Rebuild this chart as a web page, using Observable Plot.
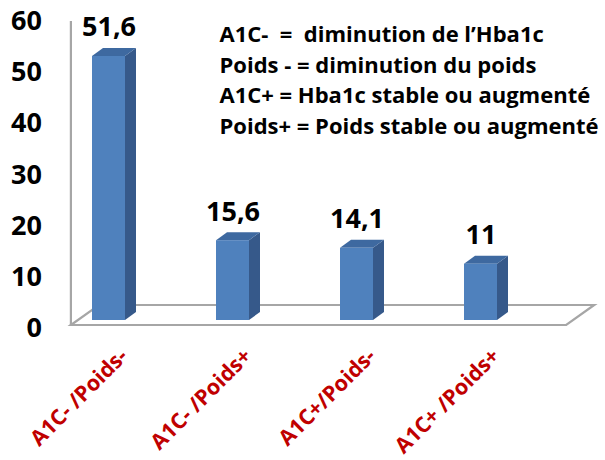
<!DOCTYPE html>
<html><head><meta charset="utf-8">
<script src="https://cdn.jsdelivr.net/npm/d3@7"></script>
<script src="https://cdn.jsdelivr.net/npm/@observablehq/plot@0.6"></script>
<style>body{margin:0;background:#fff}</style>
</head><body><div id="chart"></div>
<script>
const categories = ["A1C- /Poids-", "A1C- /Poids+", "A1C+/Poids-", "A1C+ /Poids+"];
const values = [51.6, 15.6, 14.1, 11];
const valueLabels = ["51,6", "15,6", "14,1", "11"];
const yTicks = [0, 10, 20, 30, 40, 50, 60];
const legendLines = [
  "A1C-\u00A0 =\u00A0 diminution de l’Hba1c",
  "Poids - = diminution du poids",
  "A1C+ = Hba1c stable ou augmenté",
  "Poids+ = Poids stable ou augmenté"
];

const data = categories.map((c, i) => ({cat: c, value: values[i], label: valueLabels[i]}));

const DX = 11, DY = 8;

function floorAndWall(index, scales) {
  const {x, y} = scales;
  const [r0, r1] = x.range();
  const y0 = y(0) + 5;
  const fx0 = r0 + 24.5, fx1 = r1 + 23;
  const bx = 28, by = -20;
  const g = d3.create("svg:g").attr("fill", "none").attr("stroke", "#a6a6a6").attr("stroke-width", 2.2);
  g.append("path").attr("d", `M${fx0},${y0}L${fx1},${y0}L${fx1 + bx},${y0 + by}L${fx0 + bx},${y0 + by}Z`);
  g.append("line").attr("x1", fx0).attr("x2", fx0).attr("y1", y(60) + 8).attr("y2", y0);
  return g.node();
}

function barFaces(index, scales) {
  const {x, y} = scales;
  const bw = x.bandwidth();
  const g = d3.create("svg:g");
  for (const d of data) {
    const xl = x(d.cat), xr = xl + bw, yt = y(d.value), yb = y(0);
    g.append("path").attr("fill", "#36598a")
      .attr("d", `M${xr},${yb}L${xr},${yt}L${xr + DX},${yt - DY}L${xr + DX},${yb - DY}Z`);
    g.append("path").attr("fill", "#3e69a0")
      .attr("d", `M${xl},${yt}L${xr},${yt}L${xr + DX},${yt - DY}L${xl + DX},${yt - DY}Z`);
  }
  return g.node();
}

const chart = Plot.plot({
  width: 605,
  height: 460,
  marginLeft: 46.4,
  marginRight: 61.8,
  marginTop: 13,
  marginBottom: 140,
  style: {fontFamily: "'Open Sans', sans-serif", background: "#fff", overflow: "visible"},
  x: {type: "band", domain: categories, paddingInner: 0.734, paddingOuter: 0.367, align: 0.5, axis: null},
  y: {domain: [0, 60], axis: null},
  marks: [
    floorAndWall,
    barFaces,
    Plot.barY(data, {x: "cat", y: "value", fill: "#4f81bd"}),
    Plot.text(yTicks, {y: d => d, text: d => String(d), frameAnchor: "left", textAnchor: "end", dx: -5, dy: 8, fontSize: 27, fontWeight: "bold", fill: "#000"}),
    Plot.text(data, {x: "cat", y: "value", text: "label", lineAnchor: "bottom", dy: -20, fontSize: 27, fontWeight: "bold", fill: "#000"}),
    Plot.text(data, {x: "cat", text: "cat", frameAnchor: "bottom", rotate: -45, textAnchor: "end", lineAnchor: "bottom", dx: 20, dy: 37, fill: "#c00000", fontSize: 21.5, fontWeight: "bold"}),
    Plot.text([legendLines.join("\n")], {text: d => d, frameAnchor: "top-left", textAnchor: "start", lineAnchor: "bottom", lineHeight: 30.5 / 22, dx: 172.6, dy: 120, fontSize: 22, fontWeight: "bold", fill: "#000"})
  ]
});
document.getElementById("chart").appendChild(chart);
</script>
</body></html>
